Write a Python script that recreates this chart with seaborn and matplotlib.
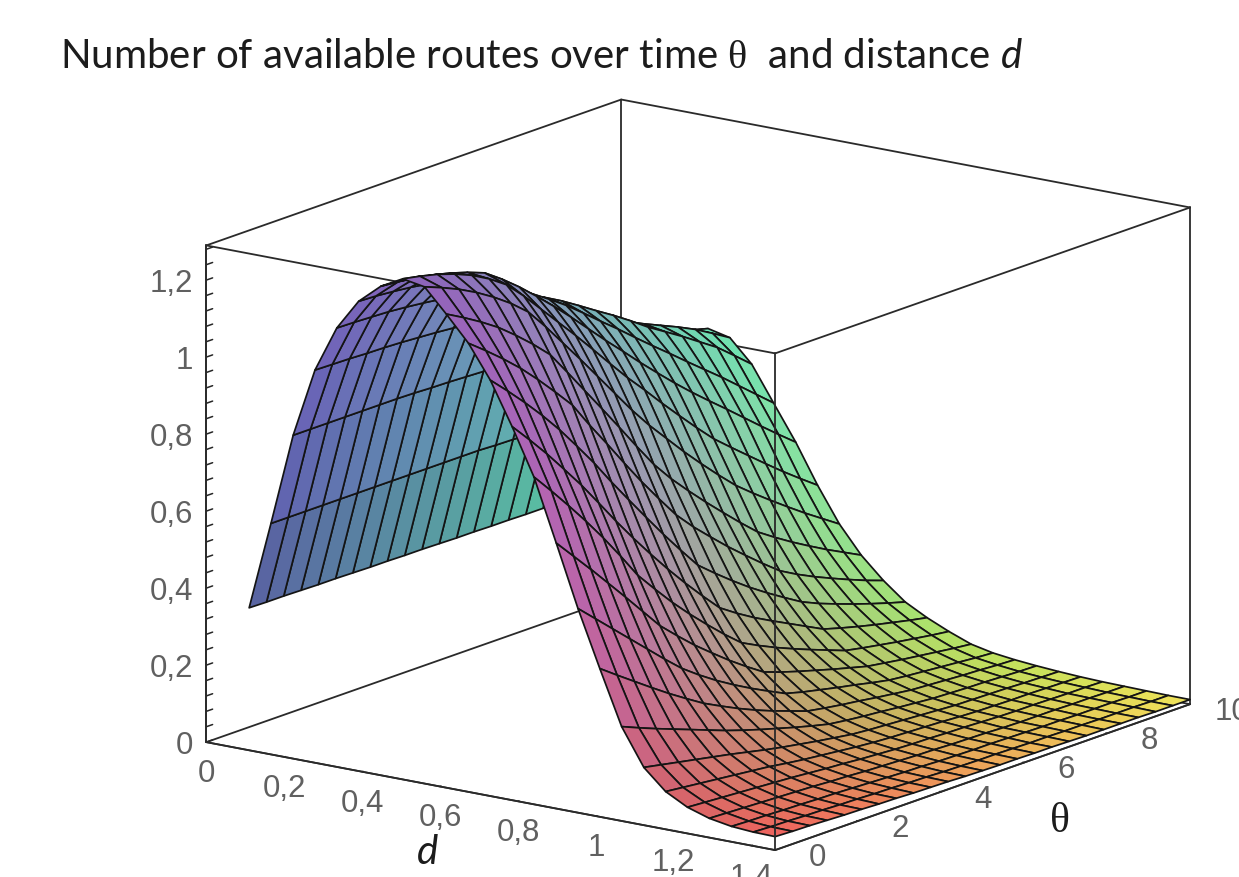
import numpy as np
import matplotlib
matplotlib.use('Agg')
import matplotlib.pyplot as plt
from mpl_toolkits.mplot3d import proj3d
import seaborn as sns

sns.set_theme(style='white')
plt.rcParams['font.family'] = ['Liberation Sans', 'DejaVu Sans']
plt.rcParams['mathtext.fontset'] = 'custom'
plt.rcParams['mathtext.rm'] = 'Liberation Serif'
plt.rcParams['mathtext.it'] = 'Lato:italic'

# ---------------------------------------------------------
# 1. DATA
# ---------------------------------------------------------
d_values = [0.110, 0.166, 0.223, 0.279, 0.335, 0.391, 0.448, 0.504, 0.560, 0.616, 0.673, 0.729, 0.785,
            0.841, 0.898, 0.954, 1.010, 1.066, 1.123, 1.179, 1.235, 1.291, 1.348, 1.404, 1.460]
theta_values = [0.000, 0.417, 0.833, 1.250, 1.667, 2.083, 2.500, 2.917, 3.333, 3.750, 4.167, 4.583, 5.000,
                5.417, 5.833, 6.250, 6.667, 7.083, 7.500, 7.917, 8.333, 8.750, 9.167, 9.583, 10.000]

# one row per d value, one column per theta value
routes = [
    [.370, .369, .369, .368, .367, .367, .366, .365, .365, .364, .364, .363, .362, .362, .361, .361, .360, .360, .359, .359, .358, .358, .357, .356, .355],
    [.600, .600, .600, .600, .600, .600, .600, .600, .600, .600, .600, .600, .600, .598, .597, .595, .594, .592, .590, .587, .583, .580, .577, .573, .570],
    [.840, .840, .840, .840, .840, .840, .840, .839, .837, .836, .834, .832, .830, .826, .822, .817, .812, .806, .800, .792, .783, .773, .762, .750, .738],
    [1.020, 1.019, 1.018, 1.016, 1.015, 1.013, 1.010, 1.007, 1.003, .999, .994, .988, .980, .968, .950, .931, .911, .888, .862, .840, .820, .800, .778, .752, .725],
    [1.140, 1.139, 1.137, 1.135, 1.131, 1.126, 1.120, 1.108, 1.095, 1.081, 1.066, 1.049, 1.030, 1.005, .977, .948, .920, .890, .858, .830, .802, .772, .742, .705, .667],
    [1.220, 1.218, 1.214, 1.209, 1.202, 1.192, 1.180, 1.159, 1.135, 1.110, 1.082, 1.052, 1.020, .984, .947, .911, .873, .836, .800, .763, .727, .691, .653, .615, .577],
    [1.270, 1.266, 1.260, 1.252, 1.241, 1.227, 1.210, 1.178, 1.142, 1.102, 1.060, 1.016, .970, .924, .880, .835, .792, .750, .710, .672, .635, .597, .559, .522, .486],
    [1.300, 1.291, 1.280, 1.265, 1.246, 1.221, 1.190, 1.145, 1.095, 1.045, .995, .943, .890, .838, .790, .740, .692, .645, .600, .562, .525, .488, .452, .418, .385],
    [1.290, 1.272, 1.252, 1.228, 1.200, 1.168, 1.130, 1.076, 1.018, .960, .900, .840, .780, .725, .675, .625, .578, .533, .490, .454, .420, .387, .355, .325, .295],
    [1.230, 1.205, 1.178, 1.148, 1.112, 1.073, 1.030, .968, .905, .842, .778, .713, .650, .597, .550, .505, .462, .420, .380, .350, .322, .296, .271, .248, .225],
    [1.165, 1.130, 1.093, 1.053, 1.008, .960, .910, .842, .778, .712, .648, .588, .530, .483, .441, .400, .362, .325, .290, .265, .243, .223, .204, .186, .170],
    [1.080, 1.036, .990, .941, .888, .830, .770, .705, .643, .582, .522, .465, .410, .373, .338, .305, .275, .247, .220, .200, .183, .167, .152, .138, .125],
    [.970, .920, .868, .812, .755, .693, .630, .570, .513, .458, .406, .357, .310, .280, .253, .229, .206, .183, .160, .147, .135, .124, .114, .104, .095],
    [.850, .798, .744, .688, .629, .566, .500, .448, .398, .352, .309, .268, .230, .207, .186, .167, .149, .132, .115, .106, .098, .090, .083, .076, .070],
    [.690, .640, .590, .538, .486, .433, .380, .338, .298, .262, .227, .195, .165, .149, .135, .122, .109, .097, .085, .078, .071, .065, .059, .053, .048],
    [.530, .488, .446, .404, .362, .320, .280, .247, .217, .190, .165, .142, .120, .108, .098, .088, .079, .069, .060, .055, .051, .047, .043, .039, .036],
    [.385, .352, .320, .288, .257, .228, .200, .177, .155, .135, .117, .101, .085, .077, .070, .064, .057, .051, .045, .042, .039, .036, .034, .031, .029],
    [.245, .226, .208, .191, .174, .157, .140, .125, .111, .098, .085, .073, .062, .056, .051, .047, .042, .038, .034, .032, .030, .029, .027, .025, .024],
    [.150, .141, .132, .123, .114, .105, .095, .085, .076, .068, .060, .053, .046, .042, .039, .036, .033, .030, .027, .026, .025, .024, .022, .021, .020],
    [.098, .093, .088, .083, .078, .073, .068, .061, .055, .050, .045, .040, .036, .033, .031, .029, .027, .024, .022, .021, .020, .020, .019, .018, .017],
    [.068, .065, .062, .059, .056, .053, .050, .046, .042, .039, .035, .032, .029, .027, .026, .024, .023, .021, .019, .018, .018, .017, .016, .016, .015],
    [.050, .048, .046, .044, .042, .040, .038, .035, .033, .030, .028, .026, .024, .023, .021, .020, .019, .017, .016, .016, .016, .015, .015, .014, .014],
    [.040, .038, .037, .035, .034, .032, .031, .029, .027, .025, .023, .022, .020, .019, .018, .018, .017, .016, .015, .015, .014, .014, .014, .013, .013],
    [.036, .034, .033, .031, .030, .028, .027, .025, .024, .022, .021, .019, .018, .017, .017, .016, .015, .015, .014, .014, .013, .013, .013, .012, .012],
    [.035, .033, .032, .030, .028, .027, .025, .024, .022, .021, .020, .018, .017, .016, .016, .015, .015, .014, .013, .013, .013, .013, .012, .012, .012],
]

d_ticks = [0, 0.2, 0.4, 0.6, 0.8, 1, 1.2, 1.4]
d_tick_labels = ['0', '0,2', '0,4', '0,6', '0,8', '1', '1,2', '1,4']
theta_ticks = [0, 2, 4, 6, 8, 10]
theta_tick_labels = ['0', '2', '4', '6', '8', '10']
z_ticks = [0, 0.2, 0.4, 0.6, 0.8, 1, 1.2]
z_tick_labels = ['0', '0,2', '0,4', '0,6', '0,8', '1', '1,2']
z_minor = [0.04, 0.08, 0.12, 0.16, 0.24, 0.28, 0.32, 0.36, 0.44, 0.48, 0.52, 0.56, 0.64, 0.68, 0.72, 0.76,
           0.84, 0.88, 0.92, 0.96, 1.04, 1.08, 1.12, 1.16, 1.24, 1.28]

D_MAX, THETA_MAX, Z_MAX = 1.46, 10, 1.29
INK = '#2a2a2a'
TICK_GREY = '#606060'

# ---------------------------------------------------------
# 2. CREATE THE PLOT
# ---------------------------------------------------------
fig = plt.figure(figsize=(12.39, 8.78), dpi=100)
ax = fig.add_axes([140 / 1239, -156 / 878, 1087 / 1239, 1087 / 878], projection='3d', computed_zorder=False)
ax.set_proj_type('ortho')
ax.view_init(elev=14.97, azim=-53.7)
ax.set_box_aspect((707, 702, 515))
ax.set_xlim(0, D_MAX, view_margin=0)
ax.set_ylim(0, THETA_MAX, view_margin=0)
ax.set_zlim(0, Z_MAX, view_margin=0)

D, T = np.meshgrid(d_values, theta_values, indexing='ij')
Z = np.array(routes)

# Maple style colouring: red follows d, green follows theta, blue follows height
red = 62 + 178 * (D / D_MAX) ** 0.8
green = 98 + 130 * T / THETA_MAX
blue = 85 + 105 * (1 - np.exp(-Z / 0.35))
corner_colors = np.dstack([red, green, blue]) / 255
colors = (corner_colors[:-1, :-1] + corner_colors[1:, :-1] + corner_colors[:-1, 1:] + corner_colors[1:, 1:]) / 4

# box edges behind the surface
x0, x1, y0, y1, z0, z1 = 0, D_MAX, 0, THETA_MAX, 0, Z_MAX
back_edges = [
    ([x0, x0], [y1, y1], [z0, z1]), ([x1, x1], [y1, y1], [z0, z1]), ([x0, x0], [y0, y0], [z0, z1]),
    ([x0, x1], [y1, y1], [z0, z0]), ([x0, x0], [y0, y1], [z0, z0]),
    ([x0, x1], [y0, y0], [z1, z1]), ([x0, x1], [y1, y1], [z1, z1]),
    ([x0, x0], [y0, y1], [z1, z1]), ([x1, x1], [y0, y1], [z1, z1]),
]
for xs, ys, zs in back_edges:
    ax.plot(xs, ys, zs, color=INK, lw=1.3, zorder=1)

ax.plot_surface(D, T, Z, facecolors=colors, rstride=1, cstride=1, shade=False,
                edgecolor='#141414', linewidth=1.25, antialiased=True, zorder=2)

# box edges in front of the surface
front_edges = [
    ([x1, x1], [y0, y0], [z0, z1]), ([x0, x1], [y0, y0], [z0, z0]), ([x1, x1], [y0, y1], [z0, z0]),
]
for xs, ys, zs in front_edges:
    ax.plot(xs, ys, zs, color=INK, lw=1.3, zorder=3)

# ticks
ax.set_xticks(d_ticks)
ax.set_yticks(theta_ticks)
ax.set_zticks(z_ticks)
ax.set_zticks(z_minor, minor=True)
ax.set_xticklabels([])
ax.set_yticklabels([])
ax.set_zticklabels([])
ax.grid(False)
for axis in [ax.xaxis, ax.yaxis, ax.zaxis]:
    axis.set_pane_color((1, 1, 1, 0))
    axis.pane.set_edgecolor((1, 1, 1, 0))
    axis.line.set_color(INK)
    axis._axinfo['tick']['inward_factor'] = 0
    axis._axinfo['tick']['outward_factor'] = 0.03
    axis._axinfo['tick']['linewidth'] = {True: 1.1, False: 1.1}
    axis._axinfo['tick']['color'] = INK
ax.zaxis._axinfo['tick']['outward_factor'] = 0.19
ax.zaxis.set_ticks_position('lower')


# tick labels sit off the box edges, placed at their projected position
def box_label(x, y, z, text, ha):
    px, py, _ = proj3d.proj_transform(x, y, z, ax.get_proj())
    ax.text2D(px, py, text, transform=ax.transData, ha=ha, va='baseline', fontsize=22.5, color=TICK_GREY)


for value, label in zip(d_ticks, d_tick_labels):
    box_label(value, 0, -0.101, label, 'center')
for value, label in zip(theta_ticks, theta_tick_labels):
    box_label(1.568, value, -0.018, label, 'center')
for value, label in zip(z_ticks, z_tick_labels):
    box_label(-0.033, 0, value - 0.035, label, 'right')

# Add Titles and Labels
fig.text(60 / 1239, 1 - 68 / 878, r'Number of available routes over time $\mathrm{\theta}$  and distance $\mathit{d}$',
         fontsize=29, family='Lato', color='#1c1c1c', ha='left', va='baseline')
fig.text(428 / 1239, 1 - 864 / 878, 'd', fontsize=29, family='Lato', style='italic', color='#1c1c1c',
         ha='center', va='baseline')
fig.text(1060 / 1239, 1 - 832 / 878, '\u03b8', fontsize=30, family='Liberation Serif', color='#1c1c1c',
         ha='center', va='baseline')

fig.savefig('out.png', dpi=100)
